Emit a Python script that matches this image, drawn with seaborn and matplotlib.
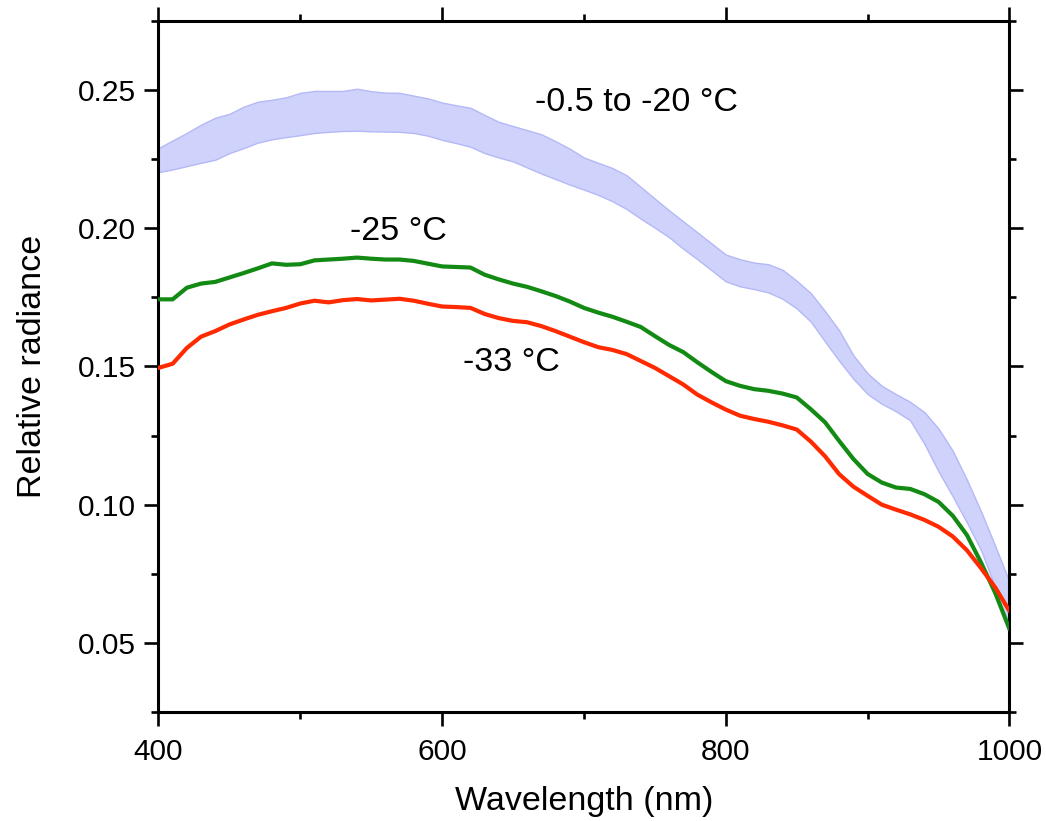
import numpy as np
import pandas as pd
import matplotlib
matplotlib.use("Agg")
import matplotlib.pyplot as plt
from matplotlib.ticker import MultipleLocator, FormatStrFormatter
import seaborn as sns

# Wavelength grid (nm)
wavelength = list(range(400, 1001, 10))

# Upper and lower envelope of the -0.5 to -20 °C spectra
band_upper = [0.2290, 0.2318, 0.2345, 0.2375, 0.2400, 0.2414, 0.2440, 0.2458, 0.2465, 0.2474,
              0.2490, 0.2497, 0.2497, 0.2497, 0.2505, 0.2496, 0.2491, 0.2490, 0.2480, 0.2470,
              0.2455, 0.2445, 0.2436, 0.2410, 0.2385, 0.2370, 0.2355, 0.2340, 0.2315, 0.2288,
              0.2256, 0.2237, 0.2218, 0.2192, 0.2150, 0.2107, 0.2065, 0.2025, 0.1985, 0.1945,
              0.1905, 0.1888, 0.1876, 0.1870, 0.1850, 0.1810, 0.1765, 0.1700, 0.1630, 0.1540,
              0.1475, 0.1430, 0.1400, 0.1372, 0.1335, 0.1275, 0.1195, 0.1090, 0.0975, 0.0850,
              0.0720]
band_lower = [0.2203, 0.2213, 0.2225, 0.2237, 0.2248, 0.2272, 0.2290, 0.2310, 0.2322, 0.2330,
              0.2337, 0.2345, 0.2349, 0.2352, 0.2353, 0.2351, 0.2350, 0.2349, 0.2345, 0.2335,
              0.2320, 0.2308, 0.2295, 0.2272, 0.2256, 0.2242, 0.2220, 0.2198, 0.2178, 0.2158,
              0.2140, 0.2121, 0.2098, 0.2070, 0.2035, 0.2002, 0.1968, 0.1926, 0.1888, 0.1848,
              0.1808, 0.1790, 0.1780, 0.1768, 0.1745, 0.1710, 0.1662, 0.1590, 0.1520, 0.1455,
              0.1400, 0.1365, 0.1338, 0.1305, 0.1220, 0.1120, 0.1030, 0.0935, 0.0835, 0.0700,
              0.0530]

# -25 °C spectrum
rad_m25 = [0.1743, 0.1743, 0.1785, 0.1800, 0.1806, 0.1822, 0.1838, 0.1855, 0.1873, 0.1868,
           0.1870, 0.1884, 0.1887, 0.1890, 0.1894, 0.1890, 0.1887, 0.1887, 0.1882, 0.1872,
           0.1862, 0.1860, 0.1858, 0.1832, 0.1815, 0.1800, 0.1788, 0.1772, 0.1755, 0.1735,
           0.1712, 0.1695, 0.1680, 0.1662, 0.1643, 0.1610, 0.1578, 0.1552, 0.1515, 0.1480,
           0.1447, 0.1430, 0.1418, 0.1412, 0.1402, 0.1388, 0.1345, 0.1298, 0.1230, 0.1165,
           0.1111, 0.1080, 0.1062, 0.1057, 0.1038, 0.1010, 0.0960, 0.0890, 0.0790, 0.0680,
           0.0550]

# -33 °C spectrum
rad_m33 = [0.1495, 0.1510, 0.1567, 0.1608, 0.1628, 0.1652, 0.1670, 0.1687, 0.1700, 0.1712,
           0.1728, 0.1738, 0.1732, 0.1740, 0.1744, 0.1739, 0.1742, 0.1745, 0.1738, 0.1727,
           0.1717, 0.1715, 0.1712, 0.1690, 0.1675, 0.1665, 0.1660, 0.1646, 0.1628, 0.1608,
           0.1588, 0.1570, 0.1560, 0.1545, 0.1520, 0.1495, 0.1465, 0.1435, 0.1398, 0.1370,
           0.1344, 0.1322, 0.1310, 0.1300, 0.1287, 0.1272, 0.1228, 0.1175, 0.1110, 0.1065,
           0.1032, 0.1000, 0.0982, 0.0965, 0.0945, 0.0920, 0.0885, 0.0835, 0.0770, 0.0700,
           0.0615]

labels = ["-0.5 to -20 °C", "-25 °C", "-33 °C"]

sns.set_style("ticks")
plt.rcParams["font.family"] = ["Liberation Sans", "DejaVu Sans"]
plt.rcParams["text.color"] = "black"
plt.rcParams["axes.labelcolor"] = "black"
plt.rcParams["xtick.color"] = "black"
plt.rcParams["ytick.color"] = "black"
plt.rcParams["xtick.labelcolor"] = "black"
plt.rcParams["ytick.labelcolor"] = "black"

df = pd.DataFrame({
    "wavelength": wavelength * 2,
    "radiance": rad_m25 + rad_m33,
    "series": [labels[1]] * len(wavelength) + [labels[2]] * len(wavelength),
})

fig = plt.figure(figsize=(10.46, 8.21), dpi=100)
ax = fig.add_axes([0.1515, 0.1328, 0.8136, 0.8416])

ax.fill_between(wavelength, band_lower, band_upper, facecolor="#cfd2fb",
                edgecolor="#b4b9f6", linewidth=1.0, zorder=1)

sns.lineplot(data=df, x="wavelength", y="radiance", hue="series",
             palette={labels[1]: "#138a13", labels[2]: "#ff2a00"},
             linewidth=3.0, legend=False, ax=ax, zorder=3)

ax.set_xlim(400, 1000)
ax.set_ylim(0.025, 0.275)
ax.xaxis.set_major_locator(MultipleLocator(200))
ax.xaxis.set_minor_locator(MultipleLocator(100))
ax.yaxis.set_major_locator(MultipleLocator(0.05))
ax.yaxis.set_minor_locator(MultipleLocator(0.025))
ax.yaxis.set_major_formatter(FormatStrFormatter("%.2f"))

for side in ["top", "right", "bottom", "left"]:
    ax.spines[side].set_visible(True)
    ax.spines[side].set_linewidth(2.2)
    ax.spines[side].set_color("black")

ax.tick_params(which="both", direction="out", top=True, right=True,
               width=1.9, color="black", labelcolor="black")
ax.tick_params(which="major", length=10, labelsize=21.5, pad=6)
ax.tick_params(which="minor", length=5)
ax.tick_params(axis="x", which="major", pad=9)

ax.set_xlabel("Wavelength (nm)", fontsize=24.5, labelpad=14, color="black")
ax.set_ylabel("Relative radiance", fontsize=24.5, labelpad=22, color="black")

ax.text(737, 0.2455, labels[0], fontsize=24.5, ha="center", va="center", color="black")
ax.text(569, 0.1990, labels[1], fontsize=24.5, ha="center", va="center", color="black")
ax.text(649, 0.1515, labels[2], fontsize=24.5, ha="center", va="center", color="black")

fig.savefig("out.png", dpi=100)
